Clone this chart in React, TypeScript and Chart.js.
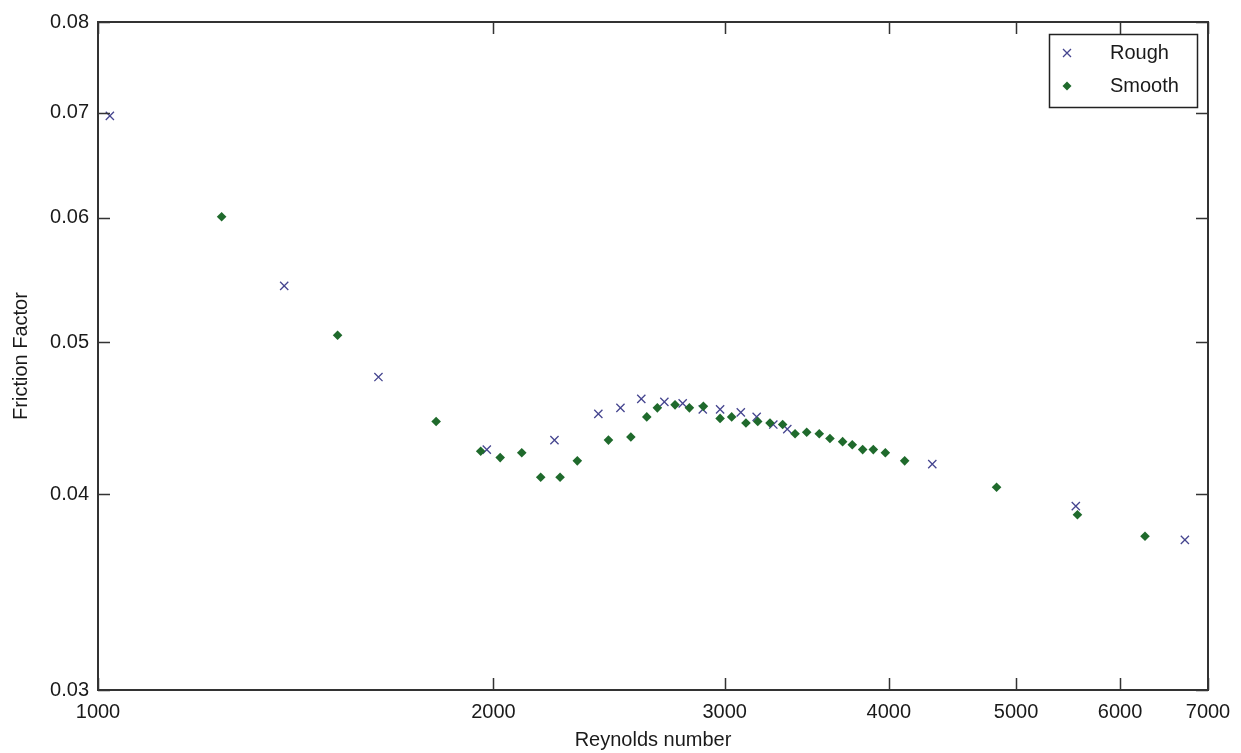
import React, { useEffect, useRef } from 'react';
import { Chart, registerables } from 'chart.js';

Chart.register(...registerables);

const roughRe = [1021, 1386, 1635, 1977, 2226, 2404, 2499, 2592, 2699, 2787, 2887, 2976, 3086, 3173, 3267, 3348, 4317, 5552, 6722];
const roughF = [0.0697, 0.0543, 0.0475, 0.0427, 0.0433, 0.045, 0.0454, 0.046, 0.0458, 0.0457, 0.0453, 0.0453, 0.0451, 0.0448, 0.0443, 0.044, 0.0418, 0.0393, 0.0374];

const smoothRe = [1242, 1522, 1809, 1956, 2024, 2102, 2173, 2248, 2317, 2447, 2545, 2617, 2666, 2750, 2820, 2890, 2976, 3037, 3114, 3179, 3248, 3321, 3394, 3464, 3541, 3608, 3689, 3752, 3821, 3893, 3976, 4113, 4832, 5568, 6268];
const smoothF = [0.0601, 0.0505, 0.0445, 0.0426, 0.0422, 0.0425, 0.041, 0.041, 0.042, 0.0433, 0.0435, 0.0448, 0.0454, 0.0456, 0.0454, 0.0455, 0.0447, 0.0448, 0.0444, 0.0445, 0.0444, 0.0443, 0.0437, 0.0438, 0.0437, 0.0434, 0.0432, 0.043, 0.0427, 0.0427, 0.0425, 0.042, 0.0404, 0.0388, 0.0376];

const xTicks = [1000, 2000, 3000, 4000, 5000, 6000, 7000];
const yTicks = [0.03, 0.04, 0.05, 0.06, 0.07, 0.08];

const seriesNames = ['Rough', 'Smooth'];
const xTitle = 'Reynolds number';
const yTitle = 'Friction Factor';

const FONT = 'Liberation Sans, Arial, sans-serif';
const ROUGH_COLOR = '#45458f';
const SMOOTH_COLOR = '#1f6a2c';
const AXIS_COLOR = '#333333';
const TEXT_COLOR = '#1a1a1a';

const framePlugin = {
  id: 'matlabFrame',
  afterDatasetsDraw(chart: any) {
    const { ctx, chartArea } = chart;
    const { left, right, top, bottom } = chartArea;
    const xs = chart.scales.x;
    const ys = chart.scales.y;
    const tl = 12;
    ctx.save();
    ctx.strokeStyle = AXIS_COLOR;
    ctx.lineWidth = 1.5;
    ctx.beginPath();
    xTicks.forEach((v) => {
      const px = Math.round(xs.getPixelForValue(v)) + 0.5;
      ctx.moveTo(px, bottom);
      ctx.lineTo(px, bottom - tl);
      ctx.moveTo(px, top);
      ctx.lineTo(px, top + tl);
    });
    yTicks.forEach((v) => {
      const py = Math.round(ys.getPixelForValue(v)) + 0.5;
      ctx.moveTo(left, py);
      ctx.lineTo(left + tl, py);
      ctx.moveTo(right, py);
      ctx.lineTo(right - tl, py);
    });
    ctx.stroke();
    ctx.lineWidth = 2;
    ctx.strokeRect(left, top, right - left, bottom - top);

    // legend
    const lx = 1049, ly = 34, lw = 148, lh = 73;
    ctx.fillStyle = '#ffffff';
    ctx.fillRect(lx, ly, lw, lh);
    ctx.lineWidth = 1.5;
    ctx.strokeStyle = '#222222';
    ctx.strokeRect(lx + 0.5, ly + 0.5, lw, lh);
    const mx = 1067;
    const r1y = 53, r2y = 86;
    ctx.strokeStyle = ROUGH_COLOR;
    ctx.lineWidth = 1.3;
    ctx.beginPath();
    ctx.moveTo(mx - 4, r1y - 4);
    ctx.lineTo(mx + 4, r1y + 4);
    ctx.moveTo(mx + 4, r1y - 4);
    ctx.lineTo(mx - 4, r1y + 4);
    ctx.stroke();
    ctx.fillStyle = SMOOTH_COLOR;
    ctx.beginPath();
    ctx.moveTo(mx, r2y - 4.5);
    ctx.lineTo(mx + 4.5, r2y);
    ctx.lineTo(mx, r2y + 4.5);
    ctx.lineTo(mx - 4.5, r2y);
    ctx.closePath();
    ctx.fill();
    ctx.fillStyle = TEXT_COLOR;
    ctx.font = `20px ${FONT}`;
    ctx.textAlign = 'left';
    ctx.textBaseline = 'middle';
    ctx.fillText(seriesNames[0], 1110, r1y);
    ctx.fillText(seriesNames[1], 1110, r2y);
    ctx.restore();
  },
};

export default function App() {
  const ref = useRef<HTMLCanvasElement | null>(null);
  useEffect(() => {
    if (!ref.current) return;
    const chart = new Chart(ref.current, {
      type: 'scatter',
      data: {
        datasets: [
          {
            label: seriesNames[0],
            data: roughRe.map((x, i) => ({ x, y: roughF[i] })),
            pointStyle: 'crossRot',
            pointRadius: 5.8,
            borderColor: ROUGH_COLOR,
            backgroundColor: ROUGH_COLOR,
            pointBorderWidth: 1.3,
            order: 1,
          },
          {
            label: seriesNames[1],
            data: smoothRe.map((x, i) => ({ x, y: smoothF[i] })),
            pointStyle: 'rectRot',
            pointRadius: 4.8,
            borderColor: SMOOTH_COLOR,
            backgroundColor: SMOOTH_COLOR,
            pointBorderWidth: 0,
            order: 0,
          },
        ],
      },
      plugins: [framePlugin],
      options: {
        responsive: false,
        animation: false,
        devicePixelRatio: 1,
        layout: { padding: { left: 0, top: 22, right: 33, bottom: 0 } },
        plugins: { legend: { display: false }, tooltip: { enabled: false } },
        scales: {
          x: {
            type: 'logarithmic',
            min: 1000,
            max: 7000,
            afterBuildTicks: (s: any) => {
              s.ticks = xTicks.map((v) => ({ value: v }));
            },
            afterFit: (s: any) => {
              s.height = 63;
            },
            grid: { display: false, drawTicks: false },
            border: { display: false },
            ticks: {
              padding: 10,
              autoSkip: false,
              maxRotation: 0,
              color: TEXT_COLOR,
              font: { family: FONT, size: 20 },
              callback: (v: any) => String(v),
            },
            title: {
              display: true,
              text: xTitle,
              color: TEXT_COLOR,
              font: { family: FONT, size: 20 },
              padding: { top: 0, bottom: 1 },
            },
          },
          y: {
            type: 'logarithmic',
            min: 0.03,
            max: 0.08,
            afterBuildTicks: (s: any) => {
              s.ticks = yTicks.map((v) => ({ value: v }));
            },
            afterFit: (s: any) => {
              s.width = 98;
            },
            grid: { display: false, drawTicks: false },
            border: { display: false },
            ticks: {
              padding: 9,
              autoSkip: false,
              color: TEXT_COLOR,
              font: { family: FONT, size: 20 },
              callback: (v: any) => Number(v).toFixed(2),
            },
            title: {
              display: true,
              text: yTitle,
              color: TEXT_COLOR,
              font: { family: FONT, size: 20 },
              padding: { top: 9, bottom: 0 },
            },
          },
        },
      },
    });
    return () => chart.destroy();
  }, []);
  return (
    <div style={{ position: 'absolute', left: 0, top: 0, width: 1241, height: 753, background: '#fff' }}>
      <canvas ref={ref} width={1241} height={753} />
    </div>
  );
}
